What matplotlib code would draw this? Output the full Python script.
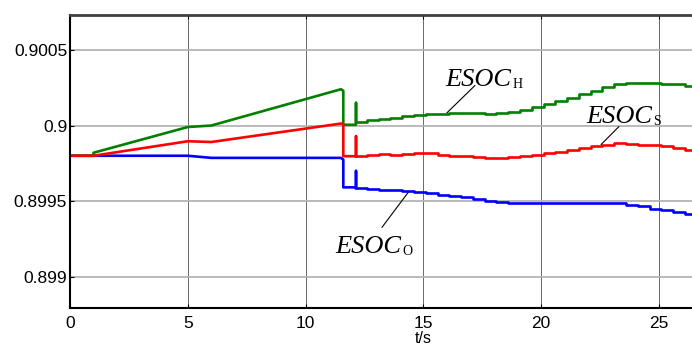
import numpy as np
import matplotlib
matplotlib.use('Agg')
import matplotlib.pyplot as plt

plt.rcParams['font.family'] = ['Liberation Sans', 'DejaVu Sans']

# early part (ramps, drop at 11.6 s, spike at 12.14 s)
green_t0 = [0, 1, 1, 5, 6, 11.5, 11.6, 11.6, 12.14, 12.14, 12.14]
green_v0 = [0.8998, 0.8998, 0.89982, 0.89999, 0.90000, 0.90024, 0.90023, 0.900005, 0.900005, 0.90015, 0.900025]
red_t0 = [0, 1, 5, 6, 11.5, 11.6, 11.6, 12.14, 12.14, 12.14]
red_v0 = [0.8998, 0.8998, 0.899896, 0.899891, 0.900013, 0.90001, 0.899797, 0.899797, 0.89993, 0.899797]
blue_t0 = [0, 5, 6, 11.5, 11.6, 11.6, 12.14, 12.14, 12.14]
blue_v0 = [0.8998, 0.8998, 0.899786, 0.899786, 0.899775, 0.899591, 0.899591, 0.8997, 0.899587]

# stepped part after 12.14 s
t_step = [12.14, 12.6, 13.1, 13.6, 14.1, 14.6, 15.1, 15.6, 16.1, 16.6,
          17.1, 17.6, 18.1, 18.6, 19.1, 19.6, 20.1, 20.6, 21.1, 21.6,
          22.1, 22.6, 23.1, 23.6, 24.1, 24.6, 25.1, 25.6, 26.1, 26.6]
green_s = [0.900025, 0.900035, 0.900044, 0.900053, 0.900060, 0.900068, 0.900073, 0.900078, 0.900081, 0.900080,
           0.900080, 0.900079, 0.900080, 0.900088, 0.900100, 0.900120, 0.900140, 0.900162, 0.900183, 0.900207,
           0.900230, 0.900255, 0.900276, 0.900279, 0.900278, 0.900279, 0.900272, 0.900274, 0.900262, 0.900260]
red_s = [0.899797, 0.899808, 0.899813, 0.899808, 0.899813, 0.899815, 0.899815, 0.899808, 0.899801, 0.899797,
         0.899790, 0.899786, 0.899786, 0.899793, 0.899797, 0.899805, 0.899815, 0.899823, 0.899836, 0.899852,
         0.899866, 0.899874, 0.899885, 0.899879, 0.899874, 0.899868, 0.899863, 0.899852, 0.899841, 0.899838]
blue_s = [0.899587, 0.899583, 0.899576, 0.899572, 0.899565, 0.899559, 0.899555, 0.899543, 0.899536, 0.899528,
          0.899517, 0.899503, 0.899492, 0.899488, 0.899488, 0.899486, 0.899488, 0.899486, 0.899488, 0.899487,
          0.899488, 0.899487, 0.899488, 0.899477, 0.899466, 0.899450, 0.899439, 0.899428, 0.899415, 0.899405]

fig = plt.figure(figsize=(6.92, 3.47), dpi=100)
ax = fig.add_axes([70/692, 39/347, 706.8/692, 293/347])

lw = 1.9
ax.plot(blue_t0, blue_v0, color='b', lw=lw)
ax.plot(t_step, blue_s, color='b', lw=lw, drawstyle='steps-post')
ax.plot(green_t0, green_v0, color='g', lw=lw)
ax.plot(t_step, green_s, color='g', lw=lw, drawstyle='steps-post')
ax.plot(red_t0, red_v0, color='r', lw=lw)
ax.plot(t_step, red_s, color='r', lw=lw, drawstyle='steps-post')

ax.set_xlim(0, 30)
ax.set_ylim(0.898793, 0.900731)
ax.set_xticks([0, 5, 10, 15, 20, 25])
ax.set_yticks([0.899, 0.8995, 0.9, 0.9005])
ax.set_yticklabels(['0.899', '0.8995', '0.9', '0.9005'])

ax.xaxis.grid(True, color='#505050', lw=0.6)
ax.yaxis.grid(True, color='#b4b4b4', lw=1.3)
ax.set_axisbelow(True)

ax.tick_params(direction='in', length=3, width=0.8, top=True, right=True, labelsize=12.5)
ax.tick_params(axis='x', pad=6)
ax.tick_params(axis='y', pad=2)
ax.set_xlabel('t/s', fontsize=11.5, labelpad=0)

for s in ['left', 'bottom']:
    ax.spines[s].set_linewidth(1.5)
    ax.spines[s].set_color('black')
ax.spines['top'].set_linewidth(2)
ax.spines['top'].set_color('#404040')

serif = 'Liberation Serif'


def label(x, y, sub, tip, base):
    t = ax.text(x, y, 'ESOC', fontsize=19, family=serif, style='italic', ha='left', va='baseline')
    ax.annotate(sub, xy=(1.0, 0.0), xycoords=t, xytext=(1, 0), textcoords='offset points',
                fontsize=10, family=serif, ha='left', va='bottom')
    ax.annotate('', xy=tip, xytext=base,
                arrowprops=dict(arrowstyle='-', color='black', lw=0.8, shrinkA=0, shrinkB=0))


label(15.92, 0.90026, 'H', (16.0, 0.900084), (17.19, 0.900265))
label(21.9, 0.900018, 'S', (22.54, 0.899874), (23.3, 0.899993))
label(11.25, 0.899159, 'O', (14.35, 0.899557), (13.24, 0.899326))

fig.savefig('out.png', dpi=100)
